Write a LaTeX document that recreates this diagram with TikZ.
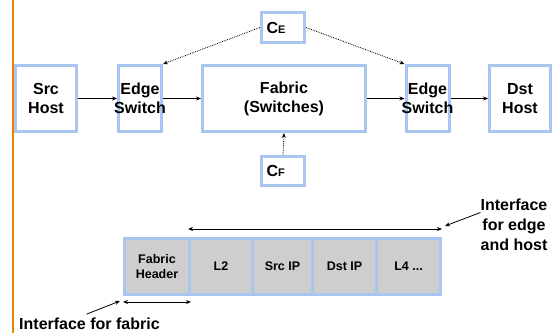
\documentclass[tikz,border=0pt]{standalone}
\usepackage{fontspec}
\setmainfont{Liberation Sans}
\usetikzlibrary{positioning,arrows.meta}
\definecolor{boxblue}{RGB}{168,198,240}
\definecolor{fieldgray}{RGB}{206,206,206}
\definecolor{rule}{RGB}{240,128,0}

\begin{document}
\begin{tikzpicture}[x=1pt,y=1pt,on grid,>={Stealth[length=5pt,width=4pt]},
	box/.style={draw=boxblue,line width=3pt,minimum height=66pt,align=center,inner sep=0pt,
		font=\fontsize{16}{19}\selectfont\bfseries},
	ctrl/.style={draw=boxblue,line width=3pt,minimum width=43pt,minimum height=29pt,text width=33pt,
		align=left,inner sep=0pt,font=\fontsize{16}{19}\selectfont\bfseries},
	field/.style={draw=boxblue,fill=fieldgray,line width=3pt,minimum height=56pt,align=center,inner sep=0pt,
		font=\fontsize{12.5}{15}\selectfont\bfseries},
	lbl/.style={inner sep=0pt,align=center,font=\fontsize{16}{20}\selectfont\bfseries}]
	\useasboundingbox (0,0) rectangle (557,333);
	\draw[rule,line width=2pt] (13,0) -- (13,333);

	% hosts, edge switches and fabric
	\node[box,minimum width=61pt] (src) at (46,234.5) {Src\\Host};
	\node[box,minimum width=43pt,inner xsep=-5pt,right=94pt of src] (edgeL) {Edge\\Switch};
	\node[box,minimum width=163pt,right=144pt of edgeL] (fab) {Fabric\\(Switches)};
	\node[box,minimum width=43pt,inner xsep=-5pt,right=143.5pt of fab] (edgeR) {Edge\\Switch};
	\node[box,minimum width=61pt,right=92.5pt of edgeR] (dst) {Dst\\Host};

	% controllers
	\node[ctrl] (ce) at (283,305.5) {C{\fontsize{11}{13}\selectfont E}};
	\node[ctrl] (cf) at (283,162.5) {C{\fontsize{11}{13}\selectfont F}};

	\path (src) edge[->,thick] (edgeL)
		(edgeL) edge[->,thick] (fab)
		(fab) edge[->,thick] (edgeR)
		(edgeR) edge[->,thick] (dst)
		(ce.west) edge[->,densely dotted,thick] (edgeL.north east)
		(ce.east) edge[->,densely dotted,thick] (edgeR.north west)
		(cf.north) edge[->,densely dotted,thick] (fab.south);

	% packet fields
	\node[field,minimum width=65pt] (fh) at (157,66.5) {Fabric\\Header};
	\node[field,minimum width=63pt,right=64pt of fh] (l2) {L2};
	\node[field,minimum width=60pt,right=61.5pt of l2] (sip) {Src IP};
	\node[field,minimum width=64pt,right=62pt of sip] (dip) {Dst IP};
	\node[field,minimum width=64pt,right=64pt of dip] (l4) {L4 ...};

	\draw[<->,thick] ([yshift=8pt]l2.north west) -- ([yshift=8pt]l4.north east);
	\draw[<->,thick] ([yshift=-6pt]fh.south west) -- ([yshift=-6pt]fh.south east);

	% interface labels
	\node[lbl,anchor=base west] (fablbl) at (19,4) {Interface for fabric};
	\node[lbl,anchor=north] (edgelbl) at (514,134.5) {Interface\\for edge\\and host};
	\draw[->,thick] ([xshift=-3pt,yshift=3pt]fablbl.north) -- ([xshift=-3pt,yshift=-5pt]fh.south west);
	\draw[->,thick] ([yshift=-14pt]edgelbl.north west) -- ([xshift=3pt,yshift=11pt]l4.north east);
\end{tikzpicture}
\end{document}
